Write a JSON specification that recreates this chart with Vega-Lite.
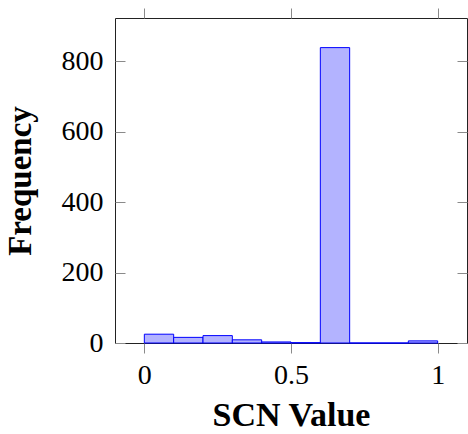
{
  "$schema": "https://vega.github.io/schema/vega-lite/v6.json",
  "width": 352,
  "height": 325,
  "autosize": {"type": "none"},
  "padding": {"left": 115, "top": 18, "right": 1, "bottom": 91},
  "background": "white",
  "config": {
    "view": {"stroke": "#222", "strokeWidth": 1},
    "font": "Liberation Serif",
    "axis": {
      "labelFont": "Liberation Serif",
      "titleFont": "Liberation Serif",
      "labelFontSize": 28,
      "labelColor": "black",
      "titleFontWeight": "bold",
      "titleColor": "black",
      "domain": false,
      "grid": false,
      "tickColor": "#8a8a8a",
      "tickWidth": 1
    }
  },
  "data": {
    "values": [
      {"bin_start": 0.0, "bin_end": 0.1, "count": 25},
      {"bin_start": 0.1, "bin_end": 0.2, "count": 16},
      {"bin_start": 0.2, "bin_end": 0.3, "count": 21},
      {"bin_start": 0.3, "bin_end": 0.4, "count": 9},
      {"bin_start": 0.4, "bin_end": 0.5, "count": 3},
      {"bin_start": 0.5, "bin_end": 0.6, "count": 1},
      {"bin_start": 0.6, "bin_end": 0.7, "count": 838},
      {"bin_start": 0.7, "bin_end": 0.8, "count": 0},
      {"bin_start": 0.8, "bin_end": 0.9, "count": 0},
      {"bin_start": 0.9, "bin_end": 1.0, "count": 6}
    ]
  },
  "layer": [
    {
      "mark": {"type": "rect", "fill": "#b3b3ff", "stroke": "#0000ff", "strokeWidth": 1},
      "encoding": {
        "x": {
          "field": "bin_start",
          "type": "quantitative",
          "scale": {"domain": [-0.1, 1.1], "nice": false, "zero": false},
          "axis": {
            "orient": "bottom",
            "title": "SCN Value",
            "titleFontSize": 34,
            "values": [0, 0.5, 1],
            "format": "~g",
            "tickSize": 10,
            "labelPadding": 8,
            "titlePadding": 9
          }
        },
        "x2": {"field": "bin_end"},
        "y": {
          "field": "count",
          "type": "quantitative",
          "scale": {"domain": [0, 922], "nice": false},
          "axis": {
            "orient": "left",
            "title": "Frequency",
            "titleFontSize": 33,
            "values": [0, 200, 400, 600, 800],
            "tickSize": -10,
            "labelPadding": 22,
            "titlePadding": 24
          }
        },
        "y2": {"datum": 0}
      }
    },
    {
      "mark": {"type": "rect", "opacity": 0},
      "encoding": {
        "x": {
          "field": "bin_start",
          "type": "quantitative",
          "axis": {
            "orient": "top",
            "title": null,
            "labels": false,
            "values": [0, 0.5, 1],
            "tickSize": 10
          }
        },
        "x2": {"field": "bin_end"},
        "y": {
          "field": "count",
          "type": "quantitative",
          "axis": {
            "orient": "right",
            "title": null,
            "labels": false,
            "values": [0, 200, 400, 600, 800],
            "tickSize": -10
          }
        },
        "y2": {"datum": 0}
      }
    }
  ],
  "resolve": {"axis": {"x": "independent", "y": "independent"}}
}
